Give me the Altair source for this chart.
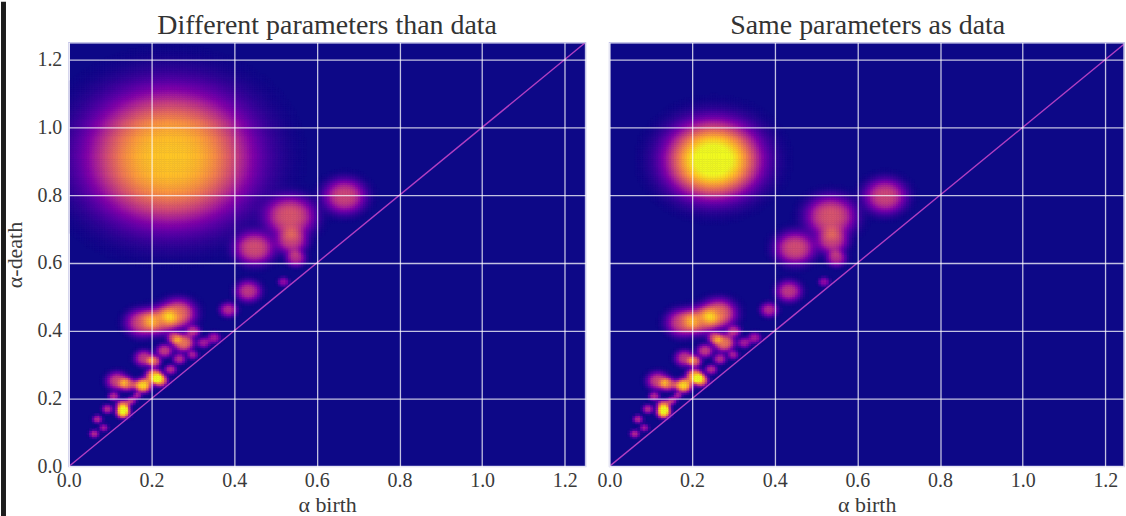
import numpy as np
import pandas as pd
import altair as alt

alt.data_transformers.disable_max_rows()

# ---- persistence-diagram features (shared by both panels) ----
birth  = [0.668, 0.536, 0.540, 0.550, 0.450, 0.435, 0.387, 0.520, 0.265, 0.222,
          0.178, 0.302, 0.278, 0.327, 0.352, 0.232, 0.268, 0.183, 0.207, 0.247,
          0.207, 0.180, 0.222, 0.118, 0.143, 0.109, 0.132, 0.132, 0.094, 0.152,
          0.070, 0.085, 0.062, 0.166, 0.300, 0.255]
death  = [0.798, 0.738, 0.665, 0.615, 0.645, 0.518, 0.463, 0.545, 0.452, 0.432,
          0.425, 0.400, 0.366, 0.366, 0.380, 0.342, 0.318, 0.320, 0.311, 0.287,
          0.268, 0.240, 0.254, 0.253, 0.244, 0.208, 0.180, 0.160, 0.170, 0.195,
          0.140, 0.115, 0.097, 0.210, 0.330, 0.380]
weight = [0.50, 0.55, 0.45, 0.40, 0.52, 0.45, 0.40, 0.30, 0.62, 0.52,
          0.50, 0.40, 0.65, 0.35, 0.35, 0.45, 0.40, 0.45, 0.55, 0.40,
          0.80, 0.92, 0.70, 0.50, 0.55, 0.40, 0.70, 0.95, 0.40, 0.40,
          0.40, 0.35, 0.40, 0.35, 0.35, 0.45]
spread = [0.038, 0.045, 0.028, 0.018, 0.036, 0.023, 0.016, 0.010, 0.032, 0.031,
          0.030, 0.013, 0.020, 0.012, 0.012, 0.015, 0.012, 0.018, 0.013, 0.011,
          0.016, 0.016, 0.014, 0.020, 0.015, 0.010, 0.013, 0.013, 0.010, 0.009,
          0.009, 0.008, 0.009, 0.008, 0.010, 0.013]

# ---- the dominant feature, rendered with each panel's kernel parameters ----
panel_titles = ["Different parameters than data", "Same parameters as data"]
big_birth  = [0.245, 0.252]
big_death  = [0.912, 0.905]
big_weight = [0.88, 1.06]
big_spread = [0.150, 0.086]

x_ticks = [0.0, 0.2, 0.4, 0.6, 0.8, 1.0, 1.2]
y_ticks = [0.0, 0.2, 0.4, 0.6, 0.8, 1.0, 1.2]

N = 200
STEP = 1.25 / N
centers = (np.arange(N) + 0.5) * STEP
GX, GY = np.meshgrid(centers, centers)
II, JJ = np.meshgrid(np.arange(N), np.arange(N))


def persistence_image(k):
    bs = birth + [big_birth[k]]
    ds = death + [big_death[k]]
    ws = weight + [big_weight[k]]
    ss = spread + [big_spread[k]]
    v = np.zeros_like(GX)
    for b, d, w, s in zip(bs, ds, ws, ss):
        r = np.hypot(GX - b, GY - d)
        v += w * np.exp(-0.5 * (r / s) ** 3)
    mask = v > 0.004
    return pd.DataFrame({"i": II[mask], "j": JJ[mask], "v": np.round(v[mask], 3)})


FONT = "Liberation Serif"
TXT = "#3a3a3a"
FRAME = "#c4c4e6"
plasma = alt.Scale(scheme="plasma", domain=[0, 1], clamp=True)
diag_df = pd.DataFrame({"t": [0.0, 1.25]})
one_df = pd.DataFrame({"t": [0]})


def panel(k, width, xmax, show_y):
    xs = alt.Scale(domain=[0, xmax], nice=False, zero=False)
    ys = alt.Scale(domain=[0, 1.25], nice=False, zero=False)
    xaxis = alt.Axis(values=x_ticks, format=".1f", title="α birth", grid=True, zindex=1,
                     ticks=False, domain=False, labelFlush=False, labelOverlap=False,
                     labelPadding=4, titlePadding=4)
    if show_y:
        yaxis = alt.Axis(values=y_ticks, format=".1f", title="α-death", grid=True, zindex=1,
                         ticks=False, domain=False, labelFlush=False, labelOverlap=False,
                         labelPadding=7, titlePadding=10)
    else:
        yaxis = alt.Axis(values=y_ticks, labels=False, title="", grid=True, zindex=1,
                         ticks=False, domain=False)
    heat = alt.Chart(persistence_image(k)).transform_calculate(
        x0=f"datum.i*{STEP}", x1=f"(datum.i+1)*{STEP}",
        y0=f"datum.j*{STEP}", y1=f"(datum.j+1)*{STEP}",
    ).mark_rect(clip=True, strokeWidth=0.6).encode(
        x=alt.X("x0:Q", scale=xs, axis=xaxis), x2="x1:Q",
        y=alt.Y("y0:Q", scale=ys, axis=yaxis), y2="y1:Q",
        color=alt.Color("v:Q", scale=plasma, legend=None),
        stroke=alt.Stroke("v:Q", scale=plasma, legend=None),
    )
    diag = alt.Chart(diag_df).mark_line(color="#b23fc2", strokeWidth=1.4, clip=True).encode(
        x=alt.X("t:Q", scale=xs, axis=xaxis),
        y=alt.Y("t:Q", scale=ys, axis=yaxis),
    )
    frame = alt.Chart(one_df).mark_rect(filled=False, color=FRAME, strokeWidth=1.2).encode(
        x=alt.value(0), x2=alt.value(width), y=alt.value(0), y2=alt.value(425)
    )
    title = alt.Chart(pd.DataFrame({"title": [panel_titles[k]]})).mark_text(
        font=FONT, fontSize=28, color="#333333", align="center", baseline="alphabetic"
    ).encode(x=alt.value(259), y=alt.value(-9), text="title:N")
    layers = [heat, diag, frame, title]
    if show_y:
        stripe = alt.Chart(one_df).mark_rect(color="#1c1c1c").encode(
            x=alt.value(-68), x2=alt.value(-63), y=alt.value(-41), y2=alt.value(475)
        )
        layers.append(stripe)
    return alt.layer(*layers).properties(width=width, height=425)


left = panel(0, 518, 1.25, True)
right = panel(1, 516, 1.25 * 516 / 518, False)

chart = alt.hconcat(left, right, spacing=24, bounds="flush").properties(
    padding=0,
    background="white",
).configure_view(
    fill="#0d0887", stroke=FRAME, strokeWidth=1.2,
).configure_axis(
    gridColor="#ffffff", gridOpacity=0.75, gridWidth=1.3,
    labelFont=FONT, labelFontSize=20, labelColor=TXT,
    titleFont=FONT, titleFontSize=22, titleColor=TXT, titleFontWeight="normal",
)

chart.save("out.html", embed_options={"renderer": "svg", "actions": False})
